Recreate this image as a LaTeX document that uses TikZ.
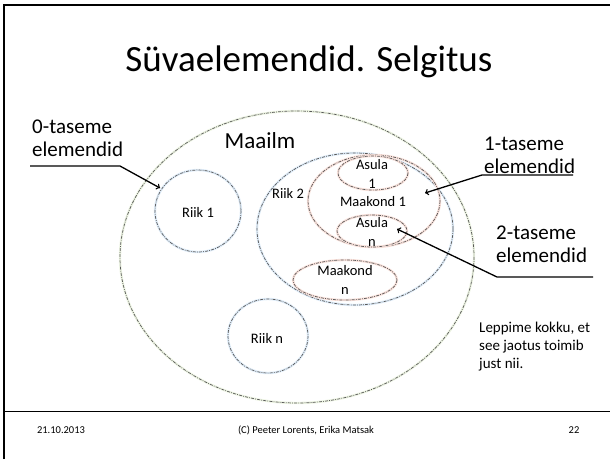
\documentclass[tikz,border=0pt]{standalone}
\usepackage{fontspec}
\setmainfont{Carlito}
\definecolor{haloG}{RGB}{238,245,228}
\definecolor{haloB}{RGB}{224,237,249}
\definecolor{haloR}{RGB}{249,226,220}
\begin{document}
\begin{tikzpicture}[x=1pt,y=-1pt,
  rim/.style={draw=black!65, line width=0.7pt, dash pattern=on 3pt off 1.2pt on 0.8pt off 1.2pt,
    preaction={draw=#1, line width=2.4pt, solid}},
  lbl/.style={inner sep=0pt, align=center, font=\fontsize{14.5}{19}\selectfont},
  side/.style={inner sep=0pt, align=left, anchor=west, font=\fontsize{21}{23}\selectfont},
  pointer/.style={line width=1.3pt}]

\useasboundingbox (0,0) rectangle (610,459);

% slide frame
\draw[line width=2pt] (4,459) -- (4,5) -- (610,5);
\draw[line width=1pt] (4,411) -- (610,411);

\node [inner sep=0pt, font=\fontsize{37}{40}\selectfont] (title) at (309,62) {Süvaelemendid. Selgitus};

% the sets
\draw[rim=haloG] (297,257) ellipse [x radius=177, y radius=146];
\draw[rim=haloB] (198,211) ellipse [x radius=43, y radius=41];
\draw[rim=haloB] (355,229) ellipse [x radius=98, y radius=76];
\draw[rim=haloB] (268,336) ellipse [x radius=40, y radius=37];
\draw[rim=haloR] (374,201) ellipse [x radius=66, y radius=46];
\draw[rim=haloR] (373,173) ellipse [x radius=35, y radius=17];
\draw[rim=haloR] (372,231) ellipse [x radius=35, y radius=16];
\draw[rim=haloR] (345,280) ellipse [x radius=52, y radius=20];

\node [inner sep=0pt, font=\fontsize{23}{26}\selectfont] (maailm) at (260,141) {Maailm};
\node [lbl] (riik1) at (198,212) {Riik 1};
\node [lbl] (riik2) at (288,193) {Riik 2};
\node [lbl] (riikn) at (267,338) {Riik n};
\node [lbl] (maakond1) at (373,202) {Maakond 1};
\node [lbl] (asula1) at (372,174) {Asula\\1};
\node [lbl] (asulan) at (372,232) {Asula\\n};
\node [lbl] (maakondn) at (345,280) {Maakond\\n};

% level labels
\node [side] (tase0) at (32,138) {0-taseme\\elemendid};
\node [side] (tase1) at (484,155) {1-taseme\\elemendid};
\node [side] (tase2) at (496,244) {2-taseme\\elemendid};

\coordinate (u0a) at (30,166);
\coordinate (u0b) at (120,166);
\coordinate (p0) at (160,188);
\draw[pointer,->] (u0a) -- (u0b) -- (p0);

\coordinate (u1a) at (573,175);
\coordinate (u1b) at (482,175);
\coordinate (p1) at (425,193);
\draw[pointer,->] (u1a) -- (u1b) -- (p1);

\coordinate (u2a) at (593,277);
\coordinate (u2b) at (497,277);
\coordinate (p2) at (397,229);
\draw[pointer,->] (u2a) -- (u2b) -- (p2);

\node [inner sep=0pt, align=left, anchor=west, font=\fontsize{15}{18}\selectfont] (note) at (479,347) {Leppime kokku, et\\see jaotus toimib\\just nii.};

% footer
\node [inner sep=0pt, font=\fontsize{10.5}{12}\selectfont] (date) at (61,430) {21.10.2013};
\node [inner sep=0pt, font=\fontsize{10.5}{12}\selectfont] (authors) at (306,430) {(C) Peeter Lorents, Erika Matsak};
\node [inner sep=0pt, font=\fontsize{10.5}{12}\selectfont] (page) at (574,430) {22};
\end{tikzpicture}
\end{document}
